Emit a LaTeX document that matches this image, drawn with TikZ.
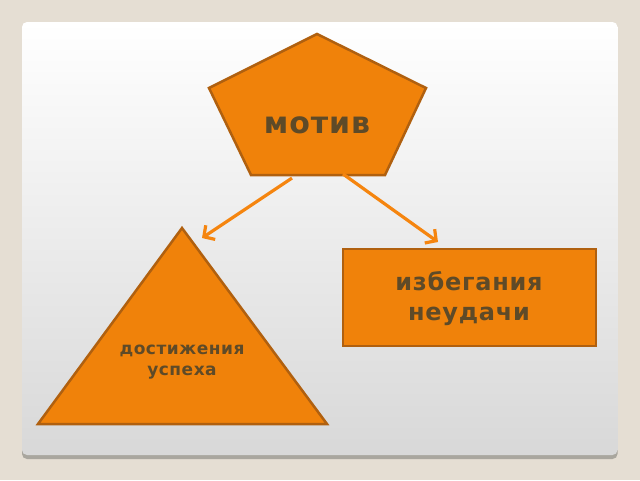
\documentclass[tikz,border=0pt]{standalone}
\usepackage{fontspec}
\setmainfont{DejaVu Sans}[LetterSpace=3]
\usetikzlibrary{arrows.meta}
\definecolor{bgbeige}{HTML}{E5DED3}
\definecolor{panelgray}{HTML}{D8D8D8}
\definecolor{shadowgray}{HTML}{A9A69E}
\definecolor{shapeorange}{HTML}{F0820A}
\definecolor{shapeedge}{HTML}{B0600F}
\definecolor{arroworange}{HTML}{F5850F}
\definecolor{labelbrown}{HTML}{5E4A28}
\tikzset{shapefill/.style={fill=shapeorange, draw=shapeedge, line width=2.5pt, line join=miter},
	lbl/.style={text=labelbrown, font=\bfseries, align=center, inner sep=0pt},
	motarrow/.style={draw=arroworange, line width=3.2pt, -{Straight Barb[length=8pt, width=17pt]}}}

\begin{document}
\begin{tikzpicture}[x=1pt, y=-1pt]
	
	\fill[bgbeige] (0,0) rectangle (640,480);
	\useasboundingbox (0,0) rectangle (640,480);
	
	\fill[shadowgray, rounded corners=5pt] (22,26) rectangle (617.5,459);
	\shade[rounded corners=5pt, top color=white, bottom color=panelgray] (22,22) rectangle (617.5,455);
	
	
	
	\draw[shapefill] (317,34) -- (426,88) -- (385,175) -- (251,175) -- (209,88) -- cycle;
	\node[lbl, font=\fontsize{30}{36}\selectfont\bfseries] (motiv) at (317,125) {мотив};
	
	\draw[shapefill] (182,228) -- (327,424) -- (38,424) -- cycle;
	\node[lbl, font=\fontsize{17}{21}\selectfont\bfseries] (dostizh) at (182,362) {достижения\\успеха};
	
	\draw[shapefill] (343,249) rectangle (596,346);
	\node[lbl, font=\fontsize{24}{30}\selectfont\bfseries] (izbeg) at (469,299) {избегания\\неудачи};
	
	
	
	\coordinate (motivL) at (292,178);
	\coordinate (motivR) at (343,174);
	\coordinate (dostTip) at (202,238);
	\coordinate (izbegTip) at (438,242);
	
	\draw[motarrow] (motivL) -- (dostTip);
	\draw[motarrow] (motivR) -- (izbegTip);
	
\end{tikzpicture}
\end{document}
